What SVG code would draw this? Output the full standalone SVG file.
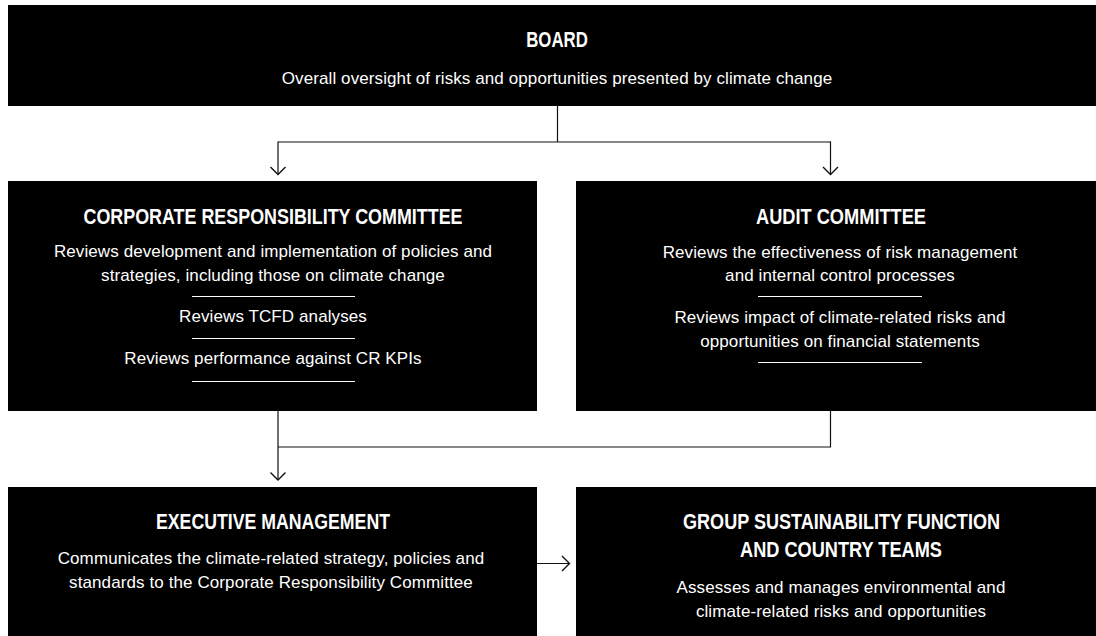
<svg xmlns="http://www.w3.org/2000/svg" width="1096" height="636" viewBox="0 0 1096 636">
<defs>
<style>
.box{fill:#000;}
.t{font-family:"Liberation Sans Narrow","Liberation Sans",Arial,sans-serif;font-weight:bold;font-size:22px;fill:#fff;text-anchor:middle;}
.b{font-family:"Liberation Sans",Arial,sans-serif;font-size:17px;letter-spacing:0.1px;fill:#fff;text-anchor:middle;}
.sep{stroke:#fff;stroke-width:1;}
.c{fill:none;stroke:#111;stroke-width:1.2;}
</style>
<marker id="arr" viewBox="0 0 20 20" refX="10" refY="10" markerWidth="20" markerHeight="20" markerUnits="userSpaceOnUse" orient="auto">
<path d="M2.5,2.5 L10,10 L2.5,17.5" fill="none" stroke="#111" stroke-width="1.4"/>
</marker>
</defs>
<rect width="1096" height="636" fill="#fff"/>
<g id="board">
<rect class="box" x="8" y="5" width="1088" height="101"/>
<text class="t" x="557" y="46.5" textLength="61.5" lengthAdjust="spacingAndGlyphs">BOARD</text>
<text class="b" x="557" y="84">Overall oversight of risks and opportunities presented by climate change</text>
</g>
<g id="crc">
<rect class="box" x="8" y="181" width="529" height="230"/>
<text class="t" x="273" y="224.3" textLength="379" lengthAdjust="spacingAndGlyphs">CORPORATE RESPONSIBILITY COMMITTEE</text>
<text class="b" x="273" y="257">Reviews development and implementation of policies and</text>
<text class="b" x="273" y="281">strategies, including those on climate change</text>
<line class="sep" x1="192" y1="296.5" x2="355" y2="296.5"/>
<text class="b" x="273" y="322">Reviews TCFD analyses</text>
<line class="sep" x1="192" y1="338.5" x2="355" y2="338.5"/>
<text class="b" x="273" y="364">Reviews performance against CR KPIs</text>
<line class="sep" x1="192" y1="381.5" x2="355" y2="381.5"/>
</g>
<g id="audit">
<rect class="box" x="576" y="181" width="520" height="230"/>
<text class="t" x="841" y="224.3" textLength="170" lengthAdjust="spacingAndGlyphs">AUDIT COMMITTEE</text>
<text class="b" x="840" y="258">Reviews the effectiveness of risk management</text>
<text class="b" x="840" y="281">and internal control processes</text>
<line class="sep" x1="758" y1="296.5" x2="922" y2="296.5"/>
<text class="b" x="840" y="323">Reviews impact of climate-related risks and</text>
<text class="b" x="840" y="347">opportunities on financial statements</text>
<line class="sep" x1="758" y1="362.5" x2="922" y2="362.5"/>
</g>
<g id="exec">
<rect class="box" x="8" y="487" width="529" height="149"/>
<text class="t" x="273" y="529" textLength="234" lengthAdjust="spacingAndGlyphs">EXECUTIVE MANAGEMENT</text>
<text class="b" x="271" y="564">Communicates the climate-related strategy, policies and</text>
<text class="b" x="271" y="588">standards to the Corporate Responsibility Committee</text>
</g>
<g id="gsf">
<rect class="box" x="576" y="487" width="520" height="149"/>
<text class="t" x="841.5" y="529.3" textLength="317" lengthAdjust="spacingAndGlyphs">GROUP SUSTAINABILITY FUNCTION</text>
<text class="t" x="841" y="557.3" textLength="202" lengthAdjust="spacingAndGlyphs">AND COUNTRY TEAMS</text>
<text class="b" x="841" y="593">Assesses and manages environmental and</text>
<text class="b" x="841" y="617">climate-related risks and opportunities</text>
</g>
<g id="connectors">
<path class="c" d="M557.5,106 V142 M278,142 H830.5"/>
<path class="c" d="M278,141.4 V174.5" marker-end="url(#arr)"/>
<path class="c" d="M830.5,141.4 V174.5" marker-end="url(#arr)"/>
<path class="c" d="M830.5,411 V447 H278"/>
<path class="c" d="M278,411 V480" marker-end="url(#arr)"/>
<path class="c" d="M537,563.5 H569.5" marker-end="url(#arr)"/>
</g>
</svg>
